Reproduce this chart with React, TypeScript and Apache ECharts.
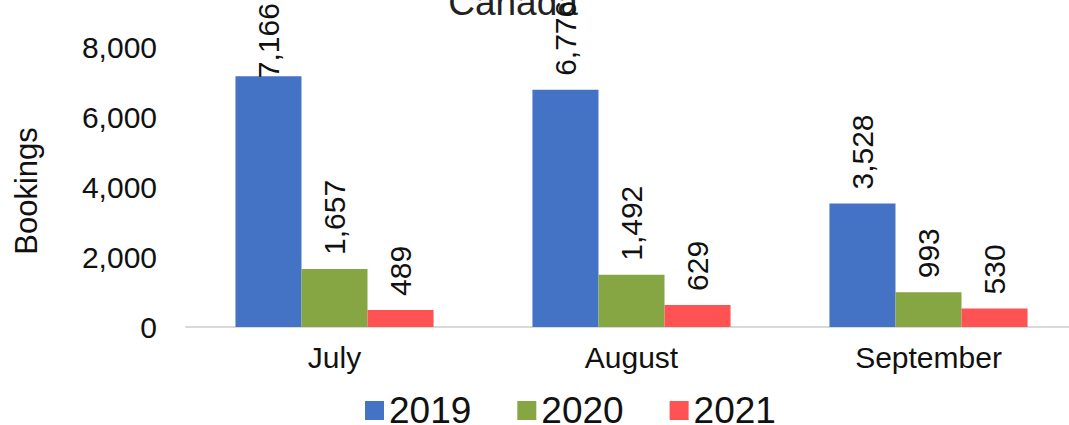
import React, { useEffect, useRef } from "react";
import * as echarts from "echarts";

const categories = ["July", "August", "September"];
const seriesNames = ["2019", "2020", "2021"];
const values2019 = [7166, 6776, 3528];
const values2020 = [1657, 1492, 993];
const values2021 = [489, 629, 530];
const yTicks = [0, 2000, 4000, 6000, 8000];

const colors = ["#4472C4", "#86A644", "#FF5353"];
const FONT = "'Liberation Sans', Arial, sans-serif";

export default function App() {
  const ref = useRef<HTMLDivElement>(null);
  useEffect(() => {
    if (!ref.current) return;
    const chart = echarts.init(ref.current, null, { renderer: "svg" });
    const fmt = (v: number) => v.toLocaleString("en-US");
    const labelBase = {
      show: true,
      position: "top",
      rotate: 90,
      align: "left",
      verticalAlign: "middle",
      distance: 14,
      fontSize: 30,
      fontFamily: FONT,
      color: "#111",
      formatter: (p: any) => fmt(p.value),
    };
    const all = [values2019, values2020, values2021];
    const maxY = yTicks[yTicks.length - 1];
    chart.setOption({
      animation: false,
      textStyle: { fontFamily: FONT },
      grid: {
        left: 186,
        width: 891,
        top: 47,
        bottom: 98,
        containLabel: false,
        outerBoundsMode: "none",
      },
      legend: {
        data: seriesNames,
        left: 360,
        top: 387,
        itemWidth: 19,
        itemHeight: 19,
        itemGap: 46,
        icon: "rect",
        textStyle: { fontSize: 37, fontFamily: FONT, color: "#111" },
      },
      graphic: [
        {
          type: "text",
          x: 513,
          y: 21,
          style: {
            text: "Canada",
            fontSize: 37,
            fontFamily: FONT,
            fill: "#222",
            align: "center",
            verticalAlign: "bottom",
          },
          z: 0,
        },
        {
          type: "text",
          x: 26,
          y: 191,
          rotation: Math.PI / 2,
          style: {
            text: "Bookings",
            fontSize: 31,
            fontFamily: FONT,
            fill: "#111",
            align: "center",
            verticalAlign: "middle",
          },
        },
      ],
      xAxis: {
        type: "category",
        data: categories,
        axisLine: { lineStyle: { color: "#D9D9D9", width: 2 } },
        axisTick: { show: false },
        axisLabel: { fontSize: 30, fontFamily: FONT, color: "#111", margin: 15 },
      },
      yAxis: {
        type: "value",
        min: 0,
        max: maxY,
        interval: 2000,
        axisLine: { show: false },
        axisTick: { show: false },
        splitLine: { show: false },
        axisLabel: {
          fontSize: 30,
          fontFamily: FONT,
          color: "#111",
          margin: 29,
          formatter: (v: number) => fmt(v),
        },
      },
      series: all.map((vals, si) => ({
        name: seriesNames[si],
        type: "bar",
        barGap: "0%",
        barCategoryGap: "33.3%",
        itemStyle: { color: colors[si] },
        label: labelBase,
        z: 2,
        data: vals.map((v, i) =>
          si === 0 && i === 0 ? { value: v, label: { distance: -2 } } : v
        ),
      })),
    });
    return () => chart.dispose();
  }, []);
  return (
    <div
      ref={ref}
      style={{ position: "absolute", left: 0, top: 0, width: 1069, height: 425 }}
    />
  );
}
